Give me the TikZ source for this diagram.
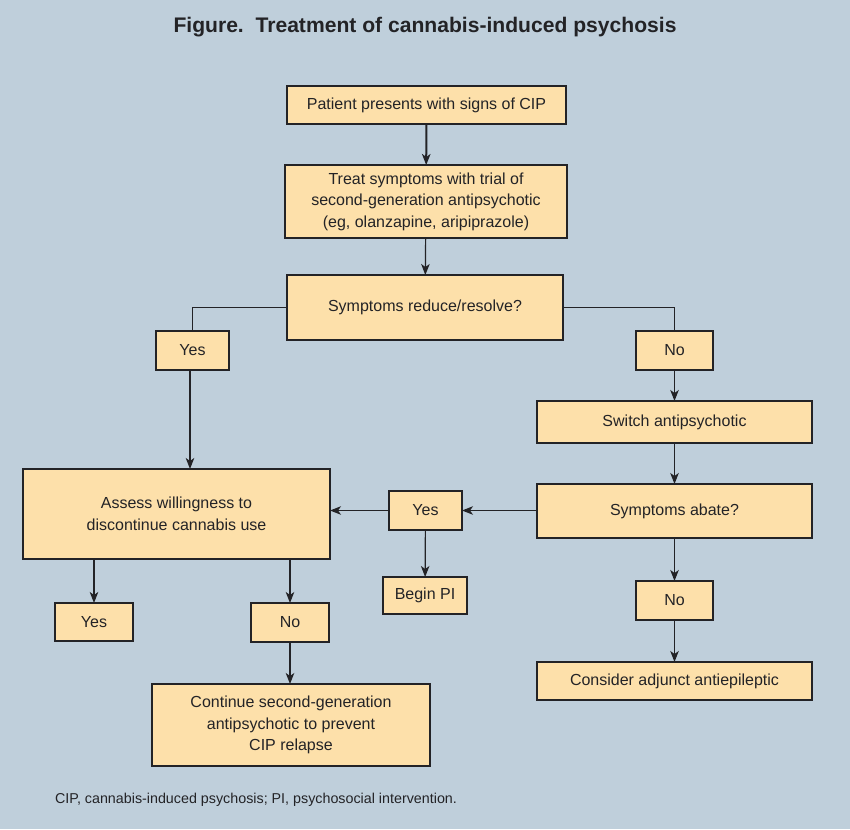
\documentclass[tikz,border=0pt]{standalone}
\usepackage{fontspec}
\setmainfont{Liberation Sans}
\usepackage{xcolor}
\usetikzlibrary{arrows.meta}

\definecolor{bgblue}{HTML}{BFCFDB}
\definecolor{boxfill}{HTML}{FDE0AA}
\definecolor{ink}{HTML}{232326}

\begin{document}
\begin{tikzpicture}[x=1pt, y=-1pt,
    every node/.style={text=ink, inner sep=0pt, outer sep=0pt},
    box/.style={draw=ink, fill=boxfill, line width=1.3pt, align=center,
        font=\fontsize{16}{21.5}\selectfont},
    arr/.style={draw=ink, line width=1.2pt, -{Stealth[length=11pt, width=8.5pt, inset=3pt]}},
    link/.style={draw=ink, line width=1.2pt}]
    \fill[bgblue] (0,0) rectangle (850,829);
    \useasboundingbox (0,0) rectangle (850,829);

    \node (title) at (425,27) {\fontsize{21.1}{25}\selectfont\bfseries Figure.\ \ Treatment of cannabis-induced psychosis};

    \node[box, minimum width=279pt, minimum height=38pt] (present) at (426.5,105) {Patient presents with signs of CIP};
    \node[box, minimum width=282pt, minimum height=73pt] (treat) at (426,201.5)
        {Treat symptoms with trial of\\second-generation antipsychotic\\(eg, olanzapine, aripiprazole)};
    \node[box, minimum width=276pt, minimum height=65pt] (reduce) at (425,307.5) {Symptoms reduce/resolve?};
    \node[box, minimum width=73pt, minimum height=39pt] (yesa) at (192.5,350.5) {Yes};
    \node[box, minimum width=77pt, minimum height=39pt] (noa) at (674.5,350.5) {No};
    \node[box, minimum width=275pt, minimum height=42pt] (switch) at (674.5,422) {Switch antipsychotic};
    \node[box, minimum width=275pt, minimum height=54pt] (abate) at (674.5,511) {Symptoms abate?};
    \node[box, minimum width=307pt, minimum height=90pt] (assess) at (176.5,514)
        {Assess willingness to\\discontinue cannabis use};
    \node[box, minimum width=73pt, minimum height=39pt] (yesb) at (425.5,510.5) {Yes};
    \node[box, minimum width=84pt, minimum height=37pt] (beginpi) at (425,595.5) {Begin PI};
    \node[box, minimum width=77pt, minimum height=39pt] (nob) at (674.5,600.5) {No};
    \node[box, minimum width=275pt, minimum height=38pt] (consider) at (674.5,681) {Consider adjunct antiepileptic};
    \node[box, minimum width=78pt, minimum height=38pt] (yesc) at (94,622) {Yes};
    \node[box, minimum width=78pt, minimum height=39pt] (noc) at (290,622.5) {No};
    \node[box, minimum width=278pt, minimum height=82pt] (continue) at (291,725)
        {Continue second-generation\\antipsychotic to prevent\\CIP relapse};

    \node[anchor=west] (note) at (55,800) {\fontsize{14.3}{17}\selectfont CIP, cannabis-induced psychosis; PI, psychosocial intervention.};

    % connectors
    \draw[arr, line width=2pt] (present) -- (treat);
    \draw[arr] (treat) -- (reduce);
    \draw[link] (reduce.west) -| (yesa.north);
    \draw[link] (reduce.east) -| (noa.north);
    \draw[arr] ([xshift=-2.5pt]yesa.south) -- ([xshift=-2.5pt]yesa.south |- assess.north);
    \draw[arr] (noa) -- (switch);
    \draw[arr] (switch) -- (abate);
    \draw[arr] (abate.west |- yesb.east) -- (yesb.east);
    \draw[arr] (yesb.west) -- (yesb.west -| assess.east);
    \draw[arr] (yesb) -- (beginpi);
    \draw[arr] (abate) -- (nob);
    \draw[arr] (nob) -- (consider);
    \draw[arr] (yesc.north |- assess.south) -- (yesc.north);
    \draw[arr] (noc.north |- assess.south) -- (noc.north);
    \draw[arr] (noc) -- (noc |- continue.north);
\end{tikzpicture}
\end{document}
